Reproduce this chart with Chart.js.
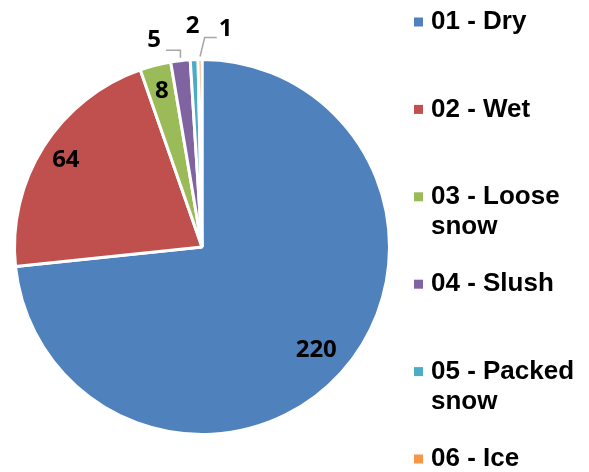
<!DOCTYPE html>
<html>
<head>
<meta charset="utf-8">
<script src="https://cdn.jsdelivr.net/npm/chart.js@4/dist/chart.umd.min.js"></script>
<style>
  html, body { margin: 0; padding: 0; background: #fff; }
  #wrap { width: 589px; height: 472px; }
</style>
</head>
<body>
<div id="wrap"><canvas id="pie"></canvas></div>
<script>
const categories = ['01 - Dry', '02 - Wet', '03 - Loose snow', '04 - Slush', '05 - Packed snow', '06 - Ice'];
const counts = [220, 64, 8, 5, 2, 1];
const colours = ['#4F81BD', '#C0504D', '#9BBB59', '#8064A2', '#4BACC6', '#F79646'];

// where each count goes: inside labels sit at a fraction of the radius,
// the thin slices get pushed past the rim (some with a leader line)
const labelSpots = [
  { r: 0.82 },
  { r: 0.86 },
  { r: 0.86 },
  { r: 1.11, dx: -24, leader: 'elbow' },
  { r: 1.18 },
  { r: 1.16, dx: 26, leader: 'slant' }
];

const sliceLabels = {
  id: 'sliceLabels',
  afterDatasetsDraw(chart) {
    const ctx = chart.ctx;
    const meta = chart.getDatasetMeta(0);
    ctx.save();
    ctx.font = 'bold 24px "Open Sans", Lato, sans-serif';
    ctx.textAlign = 'center';
    ctx.textBaseline = 'middle';
    meta.data.forEach((arc, i) => {
      const p = arc.getProps(['x', 'y', 'startAngle', 'endAngle', 'outerRadius'], true);
      const mid = (p.startAngle + p.endAngle) / 2;
      const spot = labelSpots[i];
      const lx = p.x + Math.cos(mid) * p.outerRadius * spot.r + (spot.dx || 0);
      const ly = p.y + Math.sin(mid) * p.outerRadius * spot.r;
      const ex = p.x + Math.cos(mid) * p.outerRadius;
      const ey = p.y + Math.sin(mid) * p.outerRadius - 3;
      if (spot.leader) {
        ctx.strokeStyle = '#a6a6a6';
        ctx.lineWidth = 1.5;
        ctx.beginPath();
        ctx.moveTo(ex, ey);
        if (spot.leader === 'elbow') {
          ctx.lineTo(ex, ly + 10);
          ctx.lineTo(lx + 12, ly + 10);
        } else {
          ctx.lineTo(lx - 21, ly + 8);
          ctx.lineTo(lx - 9, ly + 8);
        }
        ctx.stroke();
      }
      ctx.fillStyle = '#000';
      ctx.fillText(String(counts[i]), lx, ly);
    });
    ctx.restore();
  }
};

// legend on the right, long names wrapped onto a second line
const sideLegend = {
  id: 'sideLegend',
  afterDraw(chart) {
    const ctx = chart.ctx;
    const boxX = 414, textX = 431, top = 22, step = 87.4, lineH = 30, maxW = 150;
    ctx.save();
    ctx.font = 'bold 26px "Liberation Sans", Arial, sans-serif';
    ctx.textAlign = 'left';
    ctx.textBaseline = 'middle';
    categories.forEach((name, i) => {
      const y = top + i * step;
      ctx.fillStyle = colours[i];
      ctx.fillRect(boxX, y - 4.5, 9, 9);
      const lines = [];
      let cur = '';
      name.split(' ').forEach(w => {
        const test = cur ? cur + ' ' + w : w;
        if (cur && ctx.measureText(test).width > maxW) {
          lines.push(cur);
          cur = w;
        } else {
          cur = test;
        }
      });
      lines.push(cur);
      ctx.fillStyle = '#000';
      lines.forEach((ln, k) => ctx.fillText(ln, textX, y + k * lineH));
    });
    ctx.restore();
  }
};

new Chart(document.getElementById('pie'), {
  type: 'pie',
  data: {
    labels: categories,
    datasets: [{
      data: counts,
      backgroundColor: colours,
      borderColor: '#fff',
      borderWidth: 3
    }]
  },
  options: {
    responsive: true,
    maintainAspectRatio: false,
    animation: false,
    events: [],
    layout: { padding: { left: 13, right: 198, top: 58, bottom: 36 } },
    plugins: {
      legend: { display: false },
      tooltip: { enabled: false }
    }
  },
  plugins: [sliceLabels, sideLegend]
});
</script>
</body>
</html>
